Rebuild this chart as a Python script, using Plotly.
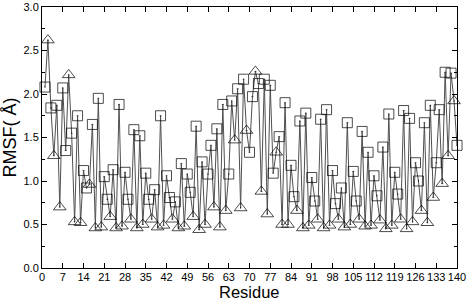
import plotly.graph_objects as go

residues = list(range(1, 141))
rmsf = [
    2.08, 2.62, 1.84, 1.29, 1.87, 0.70, 2.07, 1.35, 2.22, 1.55,
    0.53, 1.75, 0.52, 1.12, 0.92, 0.96, 1.65, 0.46, 1.95, 0.47,
    1.05, 0.79, 0.59, 1.13, 0.46, 1.88, 0.48, 1.10, 0.79, 0.56,
    1.59, 0.46, 1.52, 0.50, 1.09, 0.79, 0.56, 0.90, 0.47, 1.75,
    0.49, 1.06, 0.81, 0.56, 0.76, 0.46, 1.20, 0.48, 1.08, 0.87,
    0.59, 1.63, 0.44, 1.22, 0.50, 1.08, 1.41, 0.70, 1.60, 0.47,
    1.88, 0.66, 1.08, 1.92, 1.47, 2.06, 0.69, 2.17, 1.58, 1.33,
    1.97, 2.26, 2.12, 0.88, 2.17, 0.62, 2.10, 1.09, 1.33, 1.51,
    0.50, 1.90, 0.50, 1.18, 0.82, 0.66, 1.69, 0.46, 1.78, 0.49,
    1.04, 0.77, 0.56, 1.71, 0.46, 1.82, 0.49, 1.12, 0.74, 0.56,
    0.92, 0.47, 1.67, 0.50, 1.11, 0.77, 0.56, 1.57, 0.48, 1.33,
    0.49, 1.06, 0.83, 0.55, 1.39, 0.45, 1.77, 0.49, 1.10, 0.85,
    0.56, 1.81, 0.45, 1.72, 0.53, 1.21, 1.00, 0.66, 1.67, 0.52,
    1.87, 0.81, 1.21, 1.82, 0.97, 2.25, 1.29, 2.24, 1.92, 1.41,
]
# heptad position of each residue (0..6); positions 2, 4, 6 drawn as triangles
heptad_pos = [r % 7 for r in residues]

x_ticks = list(range(0, 141, 7))
y_ticks = [0.0, 0.5, 1.0, 1.5, 2.0, 2.5, 3.0]
x_title = "Residue"
y_title = "RMSF( Å)"

symbols = ["triangle-up-open-dot" if p in (2, 4, 6) else "square-open-dot" for p in heptad_pos]
sizes = [11 if p in (2, 4, 6) else 10 for p in heptad_pos]

FONT = "Liberation Sans, Arial, sans-serif"

fig = go.Figure()
fig.add_trace(go.Scatter(
    x=residues, y=rmsf, mode="lines+markers",
    line=dict(color="#505050", width=1),
    marker=dict(symbol=symbols, size=sizes, color="black",
                line=dict(color="black", width=1)),
    cliponaxis=False, showlegend=False,
))

axis_common = dict(
    showgrid=False, zeroline=False, showline=True, linecolor="black", linewidth=1,
    mirror="allticks", ticks="inside", ticklen=5, tickcolor="black", automargin=False,
    tickfont=dict(family=FONT, size=11, color="black"),
)
fig.update_layout(
    width=468, height=300, autosize=False,
    margin=dict(l=42, r=11, t=7, b=32, pad=0),
    paper_bgcolor="white", plot_bgcolor="white",
    xaxis=dict(range=[0, 140], tickvals=x_ticks, ticktext=[str(v) for v in x_ticks],
               ticklabelstandoff=-1, **axis_common),
    yaxis=dict(range=[0, 3.0], tickvals=y_ticks, ticktext=[f"{v:.1f}" for v in y_ticks],
               minor=dict(dtick=0.25, ticks="inside", ticklen=3, tickcolor="black"),
               title=dict(text=y_title, standoff=2,
                          font=dict(family=FONT, size=18, color="black")),
               **axis_common),
    annotations=[dict(
        text=x_title, xref="paper", yref="paper", x=0.5, y=0,
        xanchor="center", yanchor="bottom", yshift=-34, showarrow=False,
        borderpad=0, font=dict(family=FONT, size=16.5, color="black"),
    )],
)
fig.write_html(
    "out.html",
    config={"responsive": False, "displayModeBar": False},
    post_script="document.body.style.margin='0';document.body.style.overflow='hidden';",
)
